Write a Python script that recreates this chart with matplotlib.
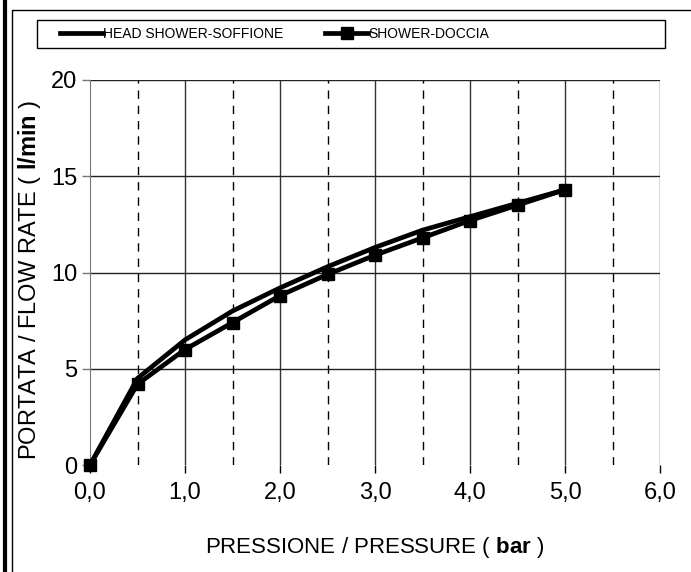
import numpy as np
import matplotlib
matplotlib.use('Agg')
import matplotlib.pyplot as plt
from matplotlib.lines import Line2D
from matplotlib.patches import Rectangle

plt.rcParams['font.family'] = ['Liberation Sans', 'DejaVu Sans']
plt.rcParams['mathtext.fontset'] = 'custom'
plt.rcParams['mathtext.rm'] = 'Liberation Sans'
plt.rcParams['mathtext.bf'] = 'Liberation Sans:bold'

# data
pressure = [0.0, 0.5, 1.0, 1.5, 2.0, 2.5, 3.0, 3.5, 4.0, 4.5, 5.0]
head_shower = [0.0, 4.5, 6.5, 8.0, 9.2, 10.3, 11.3, 12.2, 12.9, 13.6, 14.3]
shower = [0.0, 4.2, 6.0, 7.4, 8.8, 9.9, 10.9, 11.8, 12.7, 13.5, 14.3]
x_ticks = [0, 1, 2, 3, 4, 5, 6]
y_ticks = [0, 5, 10, 15, 20]

fig = plt.figure(figsize=(6.91, 5.72), dpi=100)
ax = fig.add_axes([90/691, 1 - 465/572, 570/691, 385/572])

# grid
for xv in x_ticks[1:]:
    ax.axvline(xv, color='#333333', lw=1, zorder=1)
for xv in np.arange(0.5, 6, 1.0):
    ax.axvline(xv, color='black', lw=1, ls=(0, (6, 5)), zorder=1)
for yv in y_ticks[1:]:
    ax.axhline(yv, color='#222222', lw=1, zorder=1)

l1, = ax.plot(pressure, head_shower, color='black', lw=3.4, zorder=3,
              label='HEAD SHOWER-SOFFIONE', clip_on=False)
l2, = ax.plot(pressure, shower, color='black', lw=3.4, marker='s', ms=9,
              zorder=4, label='SHOWER-DOCCIA', clip_on=False)

ax.set_xlim(0, 6)
ax.set_ylim(0, 20)
ax.set_xticks(x_ticks)
ax.set_xticklabels([f'{v:.1f}'.replace('.', ',') for v in x_ticks])
ax.set_yticks(y_ticks)
ax.tick_params(direction='out', length=6, width=1, labelsize=17, colors='black')
ax.tick_params(axis='x', pad=6)
ax.tick_params(axis='y', color='#777777', pad=3)
for s in ['top', 'right', 'bottom']:
    ax.spines[s].set_visible(False)
ax.spines['left'].set_color('#777777')
ax.spines['left'].set_zorder(2)

ax.set_xlabel(r'PRESSIONE / PRESSURE ( $\bf{bar}$ )', fontsize=16)
ax.xaxis.set_label_coords(0.5, -(548 - 465) / 385)
ax.set_ylabel(r'PORTATA / FLOW RATE ( $\bf{l/min}$ )', fontsize=17)
ax.yaxis.set_label_coords(-(90 - 30) / 570, 0.48)
ax.xaxis.label.set_va('center')
ax.yaxis.label.set_va('center')

# legend box
fig.add_artist(Rectangle((37/691, 1 - 48/572), 628/691, 28/572, transform=fig.transFigure,
                         fill=False, edgecolor='black', lw=1))
fig.legend(handles=[l1, l2], loc='center left', ncol=2,
           bbox_to_anchor=(60/691, 1 - 34/572), frameon=False, fontsize=10,
           handlelength=3.1, handletextpad=0.0, borderpad=0,
           borderaxespad=0, columnspacing=3.0)

# outer frame
fig.add_artist(Line2D([4.5/691, 4.5/691], [0, 1], transform=fig.transFigure,
                      color='black', lw=3))
fig.add_artist(Line2D([11.5/691, 11.5/691, 1], [0, 1 - 9.5/572, 1 - 9.5/572],
                      transform=fig.transFigure, color='black', lw=1))

fig.savefig('out.png', dpi=100)
